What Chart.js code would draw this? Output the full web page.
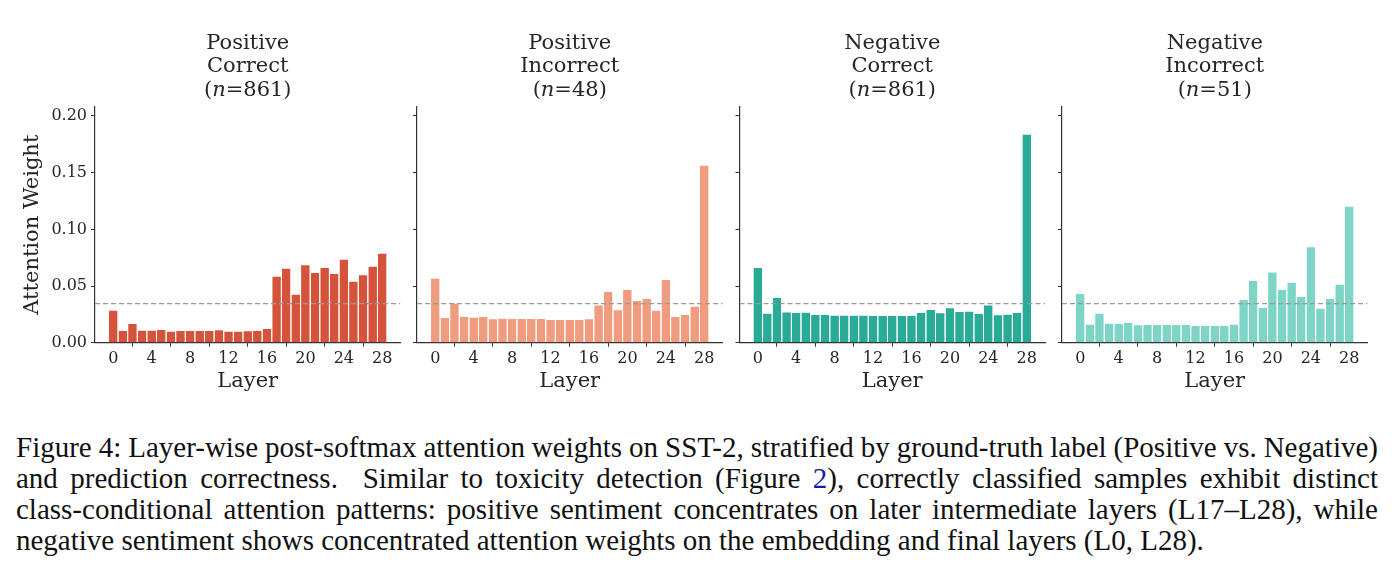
<!DOCTYPE html>
<html>
<head>
<meta charset="utf-8">
<script src="https://cdn.jsdelivr.net/npm/chart.js@4.4.1/dist/chart.umd.min.js"></script>
<style>
    html, body { margin: 0; padding: 0; background: #fff; }
    body { width: 1394px; height: 587px; position: relative; overflow: hidden; }
    .panel { position: absolute; top: 0; height: 420px; }
    .caption {
        position: absolute; left: 16px; top: 431.7px; width: 1362px;
        font-family: "Liberation Serif", "Times New Roman", serif;
        font-size: 29px; line-height: 31px; color: #111;
    }
    .caption div { white-space: nowrap; }
    .caption a { color: #1c1ca3; text-decoration: none; }
</style>
</head>
<body>
<div class="panel" style="left:0;width:410px"><canvas id="chart-0"></canvas></div>
<div class="panel" style="left:410px;width:322px"><canvas id="chart-1"></canvas></div>
<div class="panel" style="left:732px;width:322px"><canvas id="chart-2"></canvas></div>
<div class="panel" style="left:1054px;width:322px"><canvas id="chart-3"></canvas></div>

<div class="caption">
    <div class="full"><span>Figure 4: Layer-wise post-softmax attention weights on SST-2, stratified by ground-truth label (Positive vs. Negative)</span></div>
    <div class="full"><span>and prediction correctness.&nbsp; Similar to toxicity detection (Figure <a>2</a>), correctly classified samples exhibit distinct</span></div>
    <div class="full"><span>class-conditional attention patterns: positive sentiment concentrates on later intermediate layers (L17–L28), while</span></div>
    <div><span>negative sentiment shows concentrated attention weights on the embedding and final layers (L0, L28).</span></div>
</div>

<script>
const layers = [0, 1, 2, 3, 4, 5, 6, 7, 8, 9, 10, 11, 12, 13, 14, 15, 16, 17, 18, 19, 20, 21, 22, 23, 24, 25, 26, 27, 28];
const xTicks = [0, 4, 8, 12, 16, 20, 24, 28];
const yTicks = [0, 0.05, 0.10, 0.15, 0.20];

const labelGroups = ['Positive', 'Positive', 'Negative', 'Negative'];
const outcomes = ['Correct', 'Incorrect', 'Correct', 'Incorrect'];
const sampleCounts = [861, 48, 861, 51];

// uniform attention reference (1/29 layers)
const uniformLevel = 0.0345;

const posCorrect = [0.0291, 0.0112, 0.0174, 0.0115, 0.0115, 0.0121, 0.0106, 0.0112, 0.0112, 0.0112,
    0.0112, 0.0118, 0.0106, 0.0106, 0.0109, 0.0112, 0.0129, 0.0591, 0.0662, 0.0432,
    0.0691, 0.0623, 0.0667, 0.0615, 0.0741, 0.0547, 0.0603, 0.0679, 0.0794];
const posIncorrect = [0.0573, 0.0226, 0.0353, 0.0235, 0.0229, 0.0235, 0.0215, 0.0221, 0.0218, 0.0218,
    0.0218, 0.0218, 0.0209, 0.0209, 0.0209, 0.0209, 0.0215, 0.0338, 0.0456, 0.0294,
    0.0473, 0.0376, 0.0394, 0.0291, 0.0562, 0.0235, 0.0253, 0.0326, 0.1570];
const negCorrect = [0.0667, 0.0265, 0.0403, 0.0276, 0.0271, 0.0273, 0.0253, 0.0253, 0.0247, 0.0247,
    0.0247, 0.0247, 0.0244, 0.0244, 0.0244, 0.0244, 0.0244, 0.0271, 0.0297, 0.0268,
    0.0312, 0.0279, 0.0282, 0.0262, 0.0338, 0.0250, 0.0256, 0.0271, 0.1844];
const negIncorrect = [0.0438, 0.0168, 0.0265, 0.0176, 0.0174, 0.0182, 0.0162, 0.0165, 0.0165, 0.0165,
    0.0165, 0.0165, 0.0156, 0.0156, 0.0156, 0.0156, 0.0168, 0.0385, 0.0553, 0.0315,
    0.0629, 0.0473, 0.0538, 0.0412, 0.0850, 0.0309, 0.0394, 0.0520, 0.1208];

const seriesList = [posCorrect, posIncorrect, negCorrect, negIncorrect];
const barColors = ['#d5533a', '#f09c7e', '#2aab98', '#7ed5c7'];

const X_MIN = -1.9, X_MAX = 29.9, Y_MAX = 0.2082;
const serif = '"DejaVu Serif", serif';
const ink = '#262626';

// canvas sizes and where each axes box sits inside it
const panelWidths = [410, 322, 322, 322];
const yAxisWidths = [95, 7, 7.5, 8];
const plotWidth = 305.5;
const canvasHeight = 420;
const plotTop = 106.7;
const xAxisHeight = 51;
const plotBottom = 342.7;

// adjust word gaps so the first three caption lines fill the column exactly
document.querySelectorAll('.caption .full span').forEach(span => {
    const gaps = span.textContent.split(/[ \u00a0]/).length - 1;
    let spacing = 0;
    for (let k = 0; k < 3; k++) {
        spacing += (1362 - span.getBoundingClientRect().width) / gaps;
        span.style.wordSpacing = spacing.toFixed(3) + 'px';
    }
});

const panelTitle = {
    id: 'panelTitle',
    afterDraw(chart, args, opts) {
        const ctx = chart.ctx;
        const area = chart.chartArea;
        const cx = (area.left + area.right) / 2;
        ctx.save();
        ctx.fillStyle = ink;
        ctx.textBaseline = 'alphabetic';
        ctx.font = '21px ' + serif;
        ctx.textAlign = 'center';
        ctx.fillText(opts.group, cx, 48.5);
        ctx.fillText(opts.outcome, cx, 72);
        // third line: (n=861) with italic n
        const parts = [['(', '21px '], ['n', 'italic 21px '], ['=' + opts.count + ')', '21px ']];
        let total = 0;
        parts.forEach(p => { ctx.font = p[1] + serif; total += ctx.measureText(p[0]).width; });
        let x = cx - total / 2;
        ctx.textAlign = 'left';
        parts.forEach(p => {
            ctx.font = p[1] + serif;
            ctx.fillText(p[0], x, 95.5);
            x += ctx.measureText(p[0]).width;
        });
        ctx.restore();
    }
};

seriesList.forEach((values, i) => {
    const canvas = document.getElementById('chart-' + i);
    canvas.width = panelWidths[i];
    canvas.height = canvasHeight;
    canvas.style.width = panelWidths[i] + 'px';
    canvas.style.height = canvasHeight + 'px';
    const first = i === 0;

    new Chart(canvas.getContext('2d'), {
        type: 'bar',
        data: {
            datasets: [{
                type: 'line',
                data: [{ x: X_MIN, y: uniformLevel }, { x: X_MAX, y: uniformLevel }],
                borderColor: '#9a9a9a',
                borderWidth: 1.3,
                borderDash: [5, 3],
                pointRadius: 0,
                order: 0
            }, {
                data: layers.map((l, k) => ({ x: l, y: values[k] })),
                backgroundColor: barColors[i],
                borderColor: 'rgba(255,255,255,0.35)',
                borderWidth: { top: 1, left: 0, right: 0, bottom: 0 },
                categoryPercentage: 1,
                barPercentage: 0.9,
                order: 1
            }]
        },
        options: {
            responsive: false,
            animation: false,
            layout: {
                padding: {
                    left: 0,
                    right: panelWidths[i] - yAxisWidths[i] - plotWidth,
                    top: plotTop,
                    bottom: canvasHeight - plotBottom - xAxisHeight
                }
            },
            plugins: {
                legend: { display: false },
                tooltip: { enabled: false },
                panelTitle: { group: labelGroups[i], outcome: outcomes[i], count: sampleCounts[i] }
            },
            scales: {
                x: {
                    type: 'linear',
                    min: X_MIN,
                    max: X_MAX,
                    offset: false,
                    afterBuildTicks: scale => { scale.ticks = xTicks.map(v => ({ value: v })); },
                    afterFit: scale => { scale.height = xAxisHeight; },
                    grid: { display: true, drawOnChartArea: false, drawTicks: true, tickLength: 4, color: '#333', lineWidth: 1 },
                    border: { display: true, color: '#333', width: 1.2 },
                    ticks: { color: ink, padding: 3, font: { family: serif, size: 16 }, maxRotation: 0, autoSkip: false },
                    title: { display: true, text: 'Layer', color: ink, font: { family: serif, size: 21 }, padding: { top: 0, bottom: 0 } }
                },
                y: {
                    min: 0,
                    max: Y_MAX,
                    afterBuildTicks: scale => { scale.ticks = yTicks.map(v => ({ value: v })); },
                    afterFit: scale => { scale.width = yAxisWidths[i]; },
                    grid: { display: true, drawOnChartArea: false, drawTicks: true, tickLength: 4, color: '#333', lineWidth: 1 },
                    border: { display: true, color: '#333', width: 1.2 },
                    ticks: {
                        color: ink,
                        padding: 4,
                        font: { family: serif, size: 16 },
                        callback: v => first ? v.toFixed(2) : ''
                    },
                    title: { display: first, text: 'Attention Weight', color: ink, font: { family: serif, size: 21 }, padding: { top: 20, bottom: 0 } }
                }
            }
        },
        plugins: [panelTitle]
    });
});
</script>
</body>
</html>
